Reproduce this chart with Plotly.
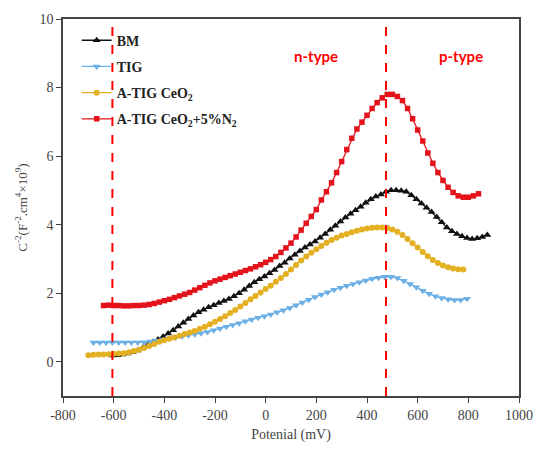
import plotly.graph_objects as go

# ---- data ----
red_x0, red_step = -640, 20
red_y = [1.64,1.65,1.64,1.64,1.63,1.63,1.64,1.64,1.65,1.67,
         1.70,1.74,1.78,1.82,1.87,1.92,1.97,2.02,2.09,2.16,
         2.23,2.30,2.36,2.41,2.46,2.51,2.56,2.61,2.66,2.71,
         2.77,2.83,2.90,2.98,3.07,3.19,3.32,3.46,3.64,3.84,
         4.04,4.24,4.44,4.72,4.96,5.22,5.52,5.84,6.19,6.52,
         6.79,6.99,7.19,7.39,7.56,7.70,7.80,7.80,7.74,7.62,
         7.39,7.09,6.76,6.44,6.09,5.79,5.52,5.29,5.09,4.94,
         4.84,4.80,4.80,4.84,4.90]
bm_x0, bm_step = -605, 20
bm_y = [0.18,0.19,0.21,0.24,0.28,0.33,0.41,0.49,0.57,0.65,
        0.73,0.82,0.92,1.03,1.14,1.25,1.35,1.44,1.52,1.59,
        1.65,1.71,1.77,1.83,1.91,2.00,2.10,2.21,2.32,2.41,
        2.49,2.58,2.68,2.79,2.89,3.01,3.12,3.23,3.33,3.42,
        3.51,3.62,3.73,3.85,3.97,4.09,4.21,4.32,4.42,4.52,
        4.64,4.74,4.82,4.88,4.96,5.00,5.00,4.99,4.96,4.86,
        4.74,4.62,4.49,4.37,4.22,4.07,3.92,3.81,3.73,3.66,
        3.61,3.58,3.60,3.64,3.70]
ceo_x0, ceo_step = -700, 20
ceo_y = [0.19,0.20,0.21,0.21,0.22,0.23,0.24,0.25,0.28,0.31,
         0.35,0.40,0.46,0.52,0.58,0.63,0.67,0.71,0.76,0.81,
         0.85,0.90,0.96,1.02,1.09,1.17,1.25,1.33,1.42,1.51,
         1.61,1.71,1.82,1.92,2.02,2.12,2.22,2.33,2.44,2.56,
         2.69,2.82,2.95,3.07,3.18,3.28,3.38,3.47,3.55,3.62,
         3.68,3.73,3.78,3.82,3.86,3.89,3.91,3.92,3.92,3.90,
         3.86,3.79,3.70,3.58,3.46,3.33,3.20,3.08,2.97,2.88,
         2.81,2.76,2.72,2.70,2.69]
tig_x0, tig_step = -680, 25
tig_y = [0.56,0.56,0.56,0.56,0.56,0.56,0.56,0.56,0.57,0.59,
         0.62,0.65,0.68,0.71,0.74,0.77,0.80,0.83,0.87,0.92,
         0.97,1.02,1.07,1.12,1.18,1.23,1.28,1.33,1.38,1.44,
         1.50,1.57,1.65,1.73,1.81,1.89,1.96,2.03,2.10,2.16,
         2.22,2.27,2.32,2.37,2.42,2.45,2.48,2.48,2.44,2.36,
         2.27,2.17,2.07,1.98,1.91,1.86,1.82,1.80,1.80,1.84]

vlines_x = [-605, 475]
x_ticks = [-800, -600, -400, -200, 0, 200, 400, 600, 800, 1000]
x_ticktext = ["-800", "-600", "-400", "-200", "0", "200", "400", "600", "800", "1000"]
y_ticks = [0, 2, 4, 6, 8, 10]

SERIF = "Liberation Serif"


def xs(x0, step, ys):
    return [x0 + i * step for i in range(len(ys))]


series = [
    ("BM", bm_x0, bm_step, bm_y, "#111111", "triangle-up", 7),
    ("TIG", tig_x0, tig_step, tig_y, "#6aafe6", "triangle-down", 7),
    ("A-TIG CeO<sub>2</sub>", ceo_x0, ceo_step, ceo_y, "#e3b021", "circle", 6),
    ("A-TIG CeO<sub>2</sub>+5%N<sub>2</sub>", red_x0, red_step, red_y, "#e3121b", "square", 5.5),
]

fig = go.Figure()
for i, (name, x0, st, ys, col, sym, sz) in enumerate(series):
    fig.add_trace(go.Scatter(
        x=xs(x0, st, ys), y=ys, name=name, mode="lines+markers",
        legendgroup=f"g{i}",
        line=dict(color=col, width=1.3),
        marker=dict(symbol=sym, size=sz, color=col),
    ))

for vx in vlines_x:
    fig.add_shape(type="line", x0=vx, x1=vx, y0=0, y1=1, xref="x", yref="paper",
                  line=dict(color="#ff0000", width=2, dash="dash"))

fig.add_annotation(x=200, y=8.93, text="<b>n-type</b>", showarrow=False,
                   font=dict(family="Lato", size=15, color="#ff0000"))
fig.add_annotation(x=770, y=8.93, text="<b>p-type</b>", showarrow=False,
                   font=dict(family="Lato", size=15, color="#ff0000"))

axis_common = dict(showline=True, linecolor="#444444", linewidth=1.5, mirror=True,
                   ticks="outside", ticklen=5, tickcolor="#444444", tickwidth=1.3,
                   showgrid=False, zeroline=False,
                   tickfont=dict(family=SERIF, size=14, color="#444444"))

fig.update_layout(
    width=545, height=452,
    margin=dict(l=63, r=14, t=18, b=56),
    paper_bgcolor="white", plot_bgcolor="white",
    showlegend=True,
    legend=dict(x=0.03, y=0.985, xanchor="left", yanchor="top",
                bgcolor="rgba(255,255,255,0)",
                font=dict(family=SERIF, size=14, color="#222222", weight="bold"),
                tracegroupgap=5),
    xaxis=dict(range=[-800, 1000], tickvals=x_ticks, ticktext=x_ticktext,
               title=dict(text="Potenial (mV)", standoff=8,
                          font=dict(family=SERIF, size=14, color="#444444")),
               **axis_common),
    yaxis=dict(range=[-1, 10], tickvals=y_ticks,
               title=dict(text="C<sup>-2</sup>(F<sup>-2</sup>.cm<sup>4</sup>×10<sup>9</sup>)", standoff=9,
                          font=dict(family=SERIF, size=13, color="#444444")),
               **axis_common),
)

fig.write_html("out.html")
